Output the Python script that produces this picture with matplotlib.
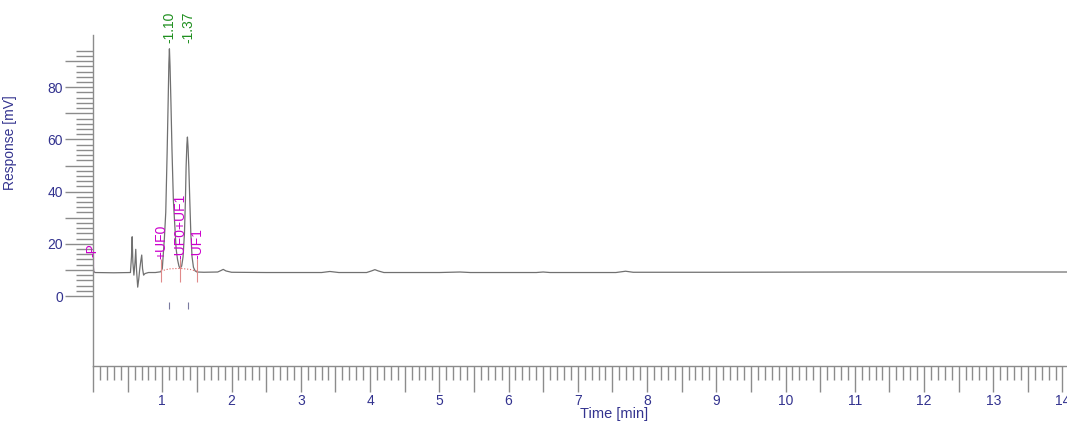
'''
Chromatogram trace with integration events and peak retention times.
'''

import matplotlib
matplotlib.use('Agg')
import matplotlib.pyplot as plt
from matplotlib.ticker import FixedLocator, FuncFormatter

# Data

trace_time = [0.00, 0.01, 0.03, 0.30, 0.54, 0.555, 0.565, 0.575, 0.59, 0.605,
              0.617, 0.628, 0.645, 0.66, 0.675, 0.69, 0.703, 0.715, 0.73,
              0.75, 0.80, 0.90, 0.98, 1.00, 1.03, 1.05, 1.07, 1.085, 1.095,
              1.103, 1.112, 1.125, 1.14, 1.16, 1.185, 1.20, 1.22, 1.24,
              1.257, 1.28, 1.30, 1.32, 1.334, 1.344, 1.355, 1.363, 1.372,
              1.383, 1.397, 1.412, 1.43, 1.45, 1.475, 1.50, 1.60, 1.80,
              1.85, 1.88, 1.92, 2.00, 2.50, 3.30, 3.42, 3.55, 3.95, 4.02,
              4.07, 4.12, 4.20, 5.00, 5.30, 5.45, 6.40, 6.50, 6.60, 7.55,
              7.69, 7.80, 9.00, 11.0, 14.1]
trace_mv = [12.6, 9.4, 9.0, 8.9, 9.0, 15.0, 22.7, 13.0, 8.0, 12.5,
            17.9, 10.0, 3.4, 6.5, 10.5, 13.5, 15.7, 10.5, 8.0,
            8.6, 9.0, 9.0, 9.3, 10.5, 22.0, 32.0, 55.0, 75.0, 89.0,
            94.7, 88.0, 74.0, 56.0, 36.7, 25.0, 18.0, 14.0, 11.5,
            10.6, 11.5, 15.0, 24.0, 36.7, 49.5, 58.0, 60.9, 57.0,
            49.5, 36.7, 24.0, 15.0, 11.0, 9.6, 9.2, 9.1, 9.2,
            9.8, 10.2, 9.6, 9.1, 9.0, 9.0, 9.4, 9.0, 9.0, 9.6,
            10.1, 9.6, 9.0, 9.0, 9.2, 9.0, 9.0, 9.2, 9.0, 9.0,
            9.5, 9.1, 9.1, 9.2, 9.2]

# integration baseline (dotted) under the two peaks
base_time = [0.98, 1.10, 1.257, 1.40, 1.50]
base_mv = [9.6, 10.4, 10.6, 10.2, 9.5]

peak_rt = [1.103, 1.37]
peak_labels = ['-1.10', '-1.37']

event_time = [0.0, 0.98, 1.257, 1.50]
event_labels = ['-P', '+UF0', '-UF0+UF1', '-UF1']

# Colours

axis_grey = '#8c8c8c'
label_blue = '#33338f'
trace_grey = '#707070'
event_magenta = '#cc00cc'
event_line = '#e08a8a'
rt_green = '#1f8f1f'

plt.rcParams['font.family'] = ['Liberation Sans', 'DejaVu Sans']

fig = plt.figure(figsize=(10.67, 4.23), dpi=100)
ax = fig.add_axes([0.0872, 0.1348, 0.9128, 0.7825])

ax.plot(trace_time, trace_mv, color=trace_grey, linewidth=0.9)
ax.plot(base_time, base_mv, color='#e06060', linewidth=0.8, linestyle=':')

# integration events
for t, lab in zip(event_time, event_labels):
    if lab != '-P':
        ax.vlines(t, 5.5, 14.0, color=event_line, linewidth=0.8)
        ax.text(t, 14.0, lab, rotation=90, ha='center', va='bottom',
                color=event_magenta, fontsize=10, clip_on=False)
    else:
        ax.vlines(t, 9.0, 15.0, color=event_magenta, linewidth=0.8)
        ax.text(t - 0.01, 15.0, lab, rotation=90, ha='center', va='bottom',
                color=event_magenta, fontsize=10, clip_on=False)

# retention times on top
for t, lab in zip(peak_rt, peak_labels):
    ax.text(t, 96.8, lab, rotation=90, ha='center', va='bottom',
            color=rt_green, fontsize=10, clip_on=False)
    ax.vlines(t, -5.0, -2.3, color='#7a7aa0', linewidth=0.8)

ax.set_xlim(0, 14.065)
ax.set_ylim(-26.8, 100)

for side in ['top', 'right']:
    ax.spines[side].set_visible(False)
for side in ['left', 'bottom']:
    ax.spines[side].set_color(axis_grey)
    ax.spines[side].set_linewidth(1.0)
ax.spines['left'].set_bounds(-26.8, 100)

# x ticks: long every 0.5, short every 0.1, labels on whole minutes
x_major = [i * 0.5 for i in range(0, 29)]
x_minor = [i * 0.1 for i in range(0, 141)]
ax.xaxis.set_major_locator(FixedLocator(x_major))
ax.xaxis.set_minor_locator(FixedLocator(x_minor))
ax.xaxis.set_major_formatter(FuncFormatter(
    lambda v, p: '' if (v == 0 or v % 1 != 0) else '%d' % v))
ax.tick_params(axis='x', which='major', length=19, width=1.0,
               color=axis_grey, labelcolor=label_blue, labelsize=10, pad=1)
ax.tick_params(axis='x', which='minor', length=10, width=1.0,
               color=axis_grey)

# y ticks: long every 10, labels every 20, short every 2
y_major = [0, 10, 20, 30, 40, 50, 60, 70, 80, 90]
y_minor = [i * 2 for i in range(0, 48)]
ax.yaxis.set_major_locator(FixedLocator(y_major))
ax.yaxis.set_minor_locator(FixedLocator(y_minor))
ax.yaxis.set_major_formatter(FuncFormatter(
    lambda v, p: '%d' % v if v % 20 == 0 else ''))
ax.tick_params(axis='y', which='major', length=20, width=1.0,
               color=axis_grey, labelcolor=label_blue, labelsize=10, pad=1.5)
ax.tick_params(axis='y', which='minor', length=12, width=1.0,
               color=axis_grey)

ax.set_xlabel('Time [min]', color=label_blue, fontsize=10.5)
ax.xaxis.set_label_coords(0.535, -0.125)
ax.set_ylabel('Response [mV]', color=label_blue, fontsize=10)
ax.yaxis.set_label_coords(-0.078, 0.674)

fig.savefig('out.png', dpi=100)
